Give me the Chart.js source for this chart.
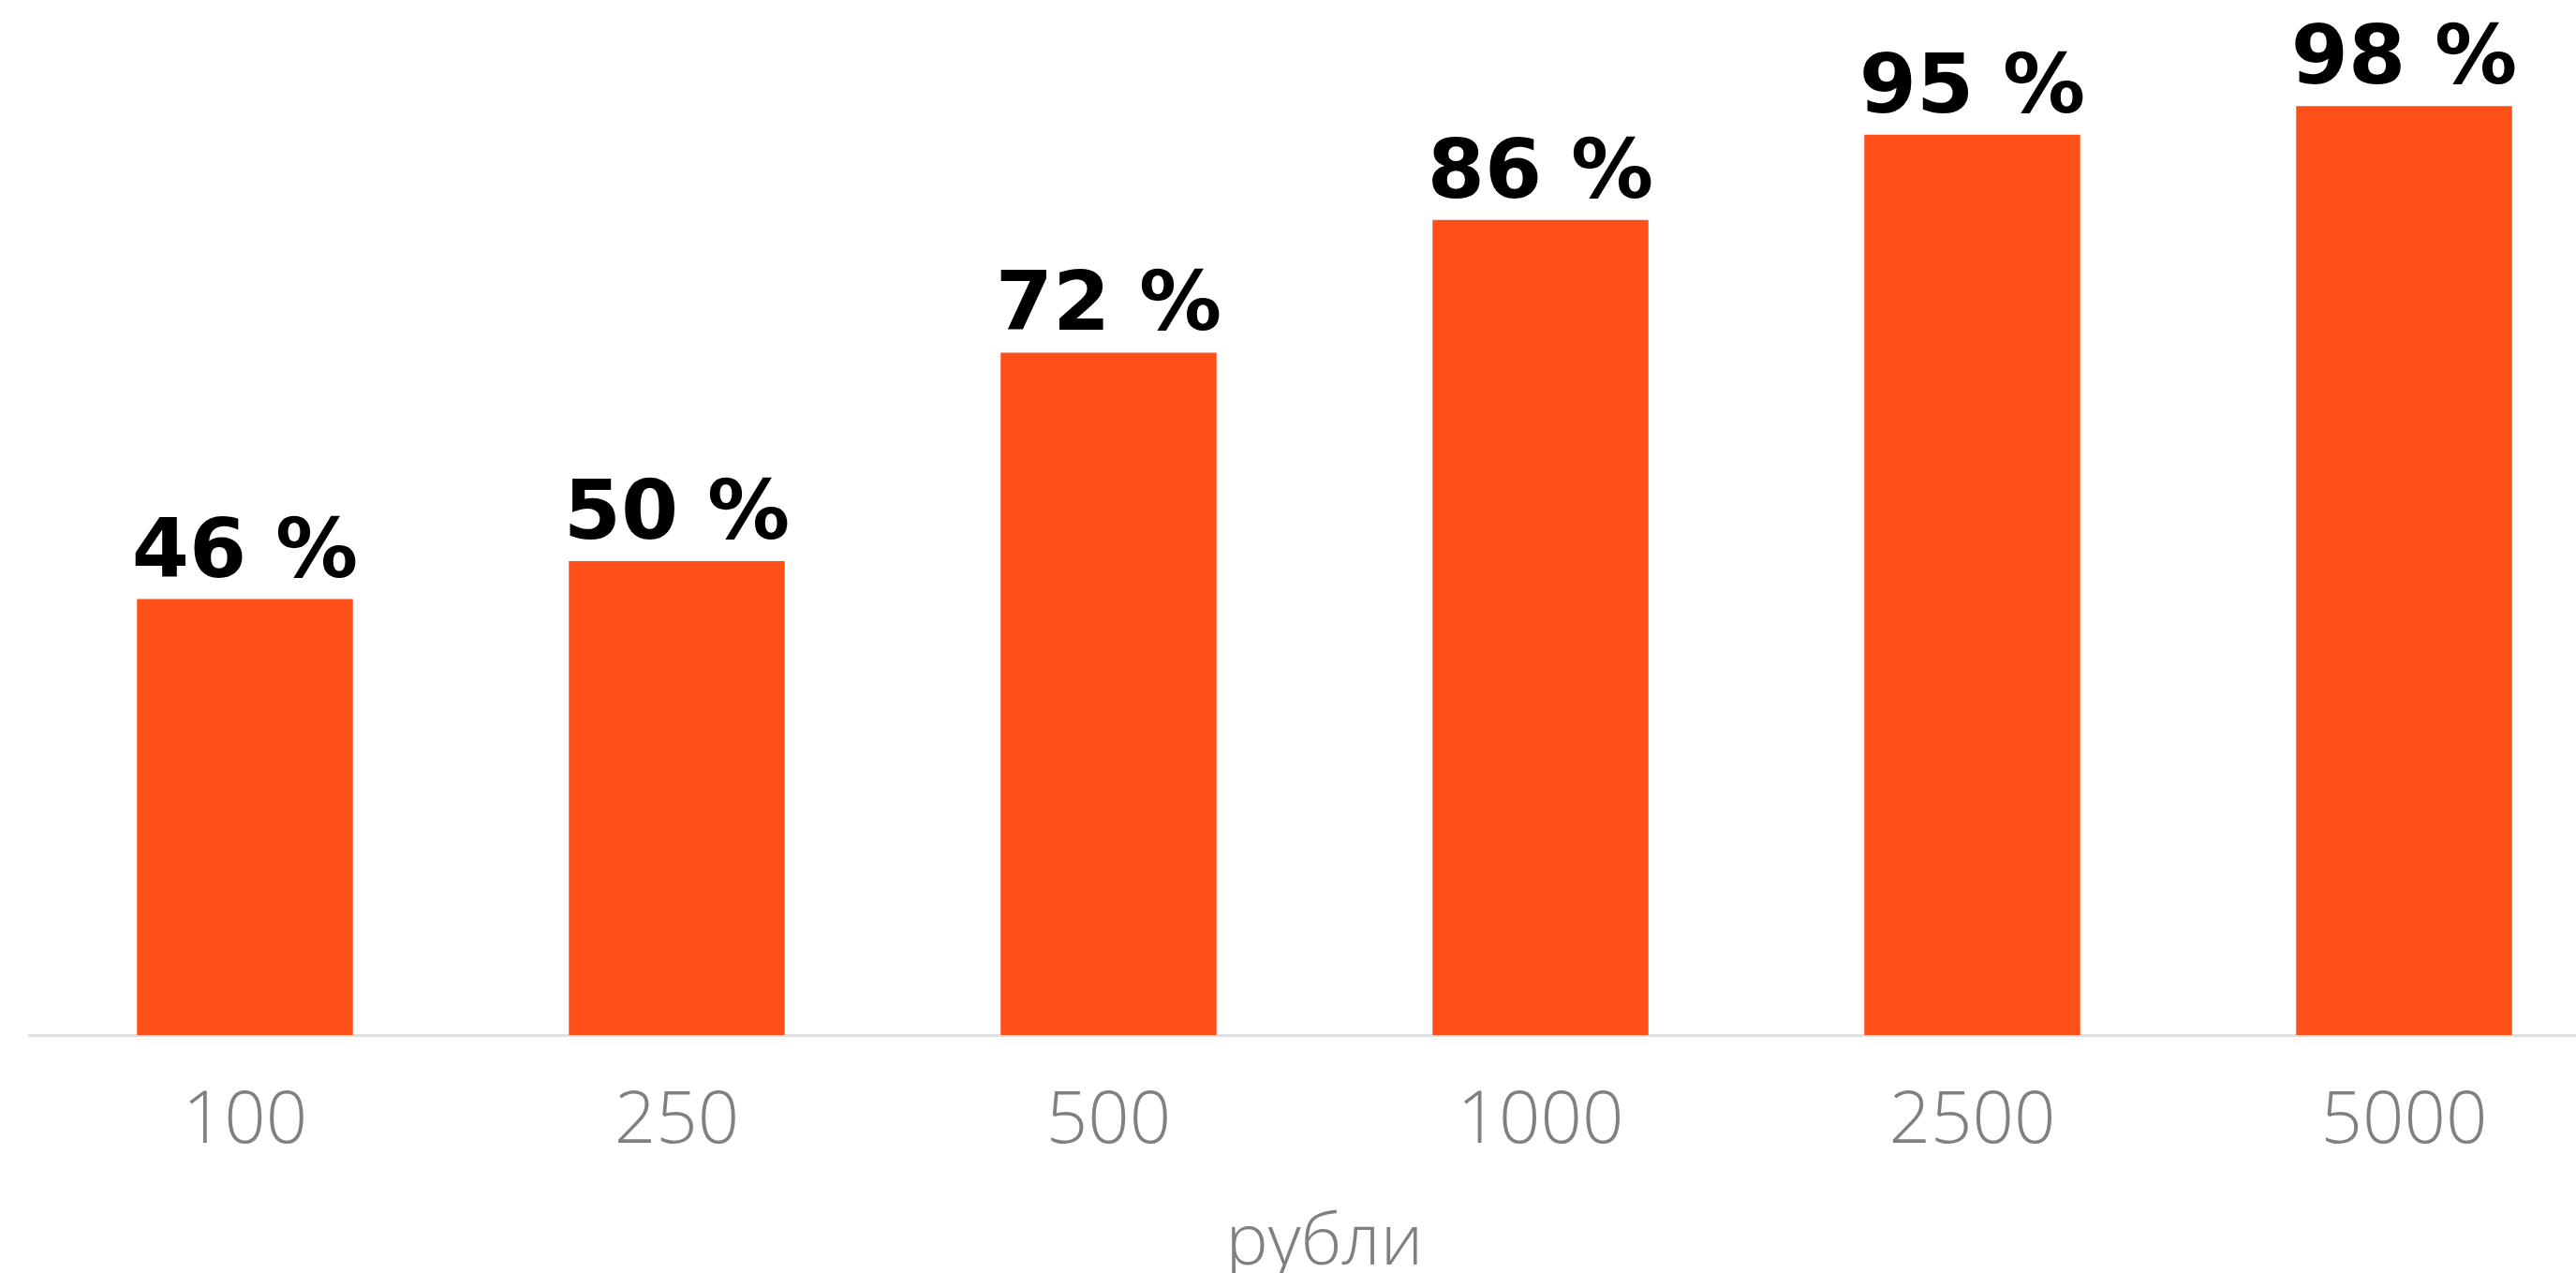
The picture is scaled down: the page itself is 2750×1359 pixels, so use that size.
<!DOCTYPE html>
<html>
<head>
<meta charset="utf-8">
<script src="https://cdn.jsdelivr.net/npm/chart.js@4.4.0/dist/chart.umd.min.js"></script>
<style>
  html, body { margin: 0; padding: 0; background: #fff; overflow: hidden; }
  #wrap { width: 2800px; height: 1359px; }
</style>
</head>
<body>
<div id="wrap"><canvas id="shareChart" width="2800" height="1359"></canvas></div>
<script>
// values
const amounts = ["100", "250", "500", "1000", "2500", "5000"];
const shares = [46, 50, 72, 86, 95, 98];
const axisTitle = "рубли";

document.addEventListener("DOMContentLoaded", function () {
    let ctx = document.getElementById("shareChart").getContext("2d");

    // draw "NN %" above each bar
    const valueLabels = {
        id: "valueLabels",
        afterDatasetsDraw(chart) {
            const c = chart.ctx;
            const meta = chart.getDatasetMeta(0);
            c.save();
            c.fillStyle = "#000";
            c.font = "bold 88px 'DejaVu Sans'";
            c.textAlign = "center";
            c.textBaseline = "alphabetic";
            meta.data.forEach((bar, i) => {
                c.fillText(shares[i] + " %", bar.x, bar.y - 24);
            });
            c.restore();
        }
    };

    new Chart(ctx, {
        type: "bar",
        data: {
            labels: amounts,
            datasets: [{
                data: shares,
                backgroundColor: "#ff5019",
                categoryPercentage: 1,
                barPercentage: 0.5
            }]
        },
        options: {
            responsive: false,
            animation: false,
            layout: { padding: { left: 31, right: 3, top: 2, bottom: 0 } },
            plugins: { legend: { display: false }, tooltip: { enabled: false } },
            scales: {
                y: { display: false, min: 0, max: 109 },
                x: {
                    afterFit: function (axis) { axis.height = 254; },
                    grid: { display: false, drawTicks: false },
                    border: { display: true, color: "#e0e0e0", width: 3 },
                    ticks: {
                        color: "#808080",
                        padding: 46,
                        font: { family: "'Open Sans'", weight: "300", size: 78 }
                    },
                    title: {
                        display: true,
                        text: axisTitle,
                        color: "#808080",
                        padding: { top: 0, bottom: 0 },
                        font: { family: "'Open Sans'", weight: "300", size: 76, lineHeight: 0.8 }
                    }
                }
            }
        },
        plugins: [valueLabels]
    });
});
</script>
</body>
</html>
